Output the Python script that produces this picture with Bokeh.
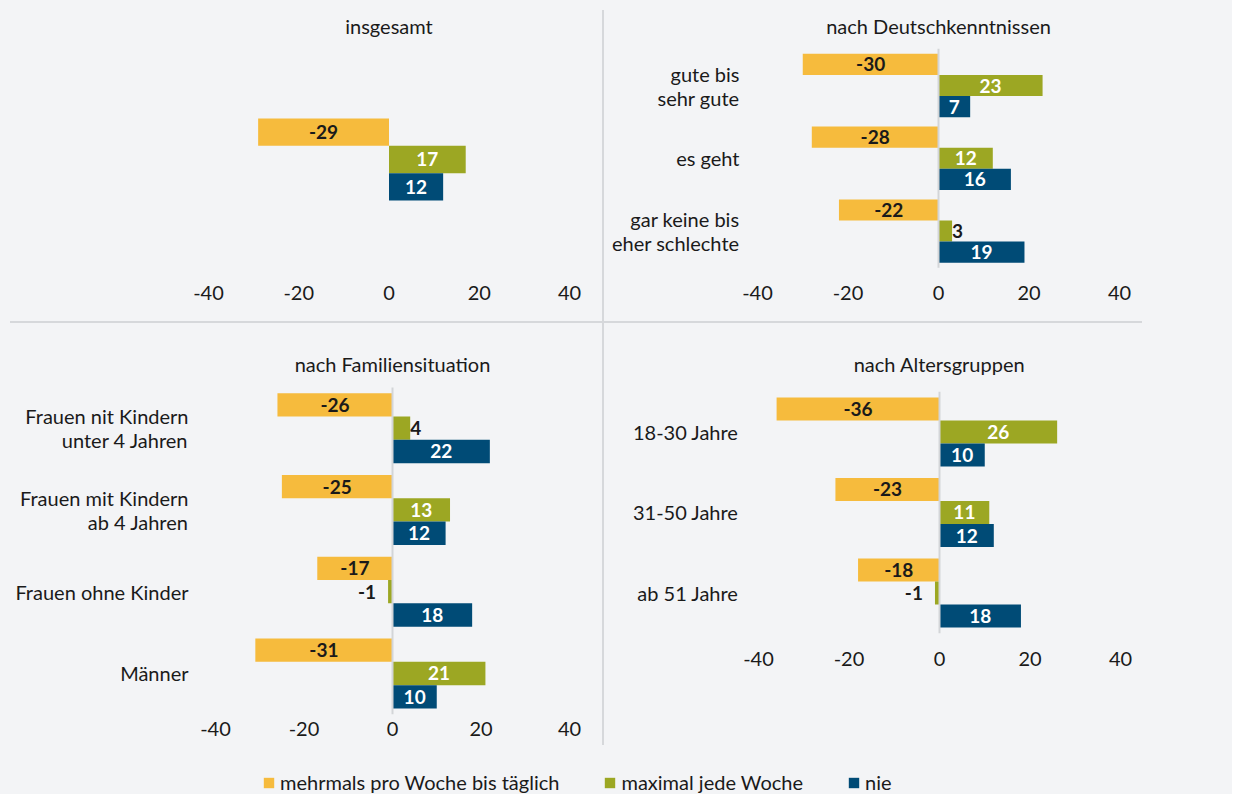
from bokeh.plotting import figure
from bokeh.layouts import column, row
from bokeh.models import Range1d, FixedTicker, Div, Legend, LegendItem, ColumnDataSource
from bokeh.embed import file_html
from bokeh.resources import INLINE
from bokeh.core.properties import value

# ---------------- data ----------------
series_names = ["mehrmals pro Woche bis täglich", "maximal jede Woche", "nie"]
x_ticks = [-40, -20, 0, 20, 40]
x_tick_labels = ["-40", "-20", "0", "20", "40"]

title_total = "insgesamt"
cats_total = ["insgesamt"]
often_total = [-29]
weekly_total = [17]
never_total = [12]

title_deutsch = "nach Deutschkenntnissen"
cats_deutsch = ["gute bis\nsehr gute", "es geht", "gar keine bis\neher schlechte"]
often_deutsch = [-30, -28, -22]
weekly_deutsch = [23, 12, 3]
never_deutsch = [7, 16, 19]

title_family = "nach Familiensituation"
cats_family = ["Frauen nit Kindern\nunter 4 Jahren", "Frauen mit Kindern\nab 4 Jahren",
               "Frauen ohne Kinder", "Männer"]
often_family = [-26, -25, -17, -31]
weekly_family = [4, 13, -1, 21]
never_family = [22, 12, 18, 10]

title_age = "nach Altersgruppen"
cats_age = ["18-30 Jahre", "31-50 Jahre", "ab 51 Jahre"]
often_age = [-36, -23, -18]
weekly_age = [26, 11, -1]
never_age = [10, 12, 18]

# ---------------- style ----------------
BG = "#f3f4f6"
YEL = "#f6bb3d"
GRN = "#9ca723"
BLU = "#004b76"
SEP = "#d6d8db"
ZERO = "#d3d5d8"
TXT = "#1a1a1a"
FONT = "Lato"
FS = "20px"
FS_BAR = "19px"


def panel(title, cats, often, weekly, never, width, height, left, right, top, bottom,
          y0, y1, bh, label_standoff, title_standoff, show_y=True, zero_line=True):
    n = len(cats)
    centers = [float(n - 1 - i) for i in range(n)]
    p = figure(width=width, height=height, x_range=Range1d(-40, 40), y_range=Range1d(y0, y1),
               output_backend="svg", toolbar_location=None,
               min_border_left=left, min_border_right=right,
               min_border_top=top, min_border_bottom=bottom,
               background_fill_color=BG, border_fill_color=BG, outline_line_color=None)
    p.title.text = title
    p.title.align = "center"
    p.title.text_font = FONT
    p.title.text_font_size = FS
    p.title.text_font_style = "normal"
    p.title.text_color = TXT
    p.title.standoff = title_standoff
    p.grid.visible = False

    offsets = [bh, 0.0, -bh]
    colors = [YEL, GRN, BLU]
    inside_colors = [TXT, "white", "white"]
    for vals, off, col, icol in zip([often, weekly, never], offsets, colors, inside_colors):
        ys = [c + off for c in centers]
        lx, al, tc, xo = [], [], [], []
        for v in vals:
            if abs(v) >= 5:
                lx.append(v / 2.0); al.append("center"); tc.append(icol); xo.append(0)
            elif v >= 0:
                lx.append(v); al.append("left"); tc.append(TXT); xo.append(0)
            else:
                lx.append(v); al.append("right"); tc.append(TXT); xo.append(-12)
        src = ColumnDataSource(dict(y=ys, v=vals, lx=lx, al=al, tc=tc, xo=xo,
                                    lbl=[str(v) for v in vals]))
        p.hbar(y="y", left=0, right="v", height=bh, source=src, fill_color=col,
               line_color=None)
        p.text(x="lx", y="y", text="lbl", source=src, text_align="al", text_color="tc",
               x_offset="xo", text_baseline="middle", text_font=value(FONT),
               text_font_style="bold", text_font_size=FS_BAR)

    if zero_line:
        ext = 1.5 * bh + 0.07
        p.segment(x0=[0], y0=[centers[0] + ext], x1=[0], y1=[centers[-1] - ext],
                  line_color=ZERO, line_width=2)

    xa = p.xaxis[0]
    xa.ticker = FixedTicker(ticks=x_ticks)
    xa.major_label_overrides = {float(t): s for t, s in zip(x_ticks, x_tick_labels)}
    xa.axis_line_color = None
    xa.major_tick_line_color = None
    xa.minor_tick_line_color = None
    xa.major_tick_out = 0
    xa.major_tick_in = 0
    xa.major_label_standoff = 5
    xa.major_label_text_font = FONT
    xa.major_label_text_font_size = FS
    xa.major_label_text_color = TXT

    ya = p.yaxis[0]
    if show_y:
        ya.ticker = FixedTicker(ticks=centers)
        ya.major_label_overrides = {c: lab for c, lab in zip(centers, cats)}
        ya.axis_line_color = None
        ya.major_tick_line_color = None
        ya.minor_tick_line_color = None
        ya.major_tick_out = 0
        ya.major_tick_in = 0
        ya.major_label_standoff = label_standoff
        ya.major_label_text_font = FONT
        ya.major_label_text_font_size = FS
        ya.major_label_text_color = TXT
        ya.major_label_text_align = "right"
        ya.major_label_text_line_height = 1.0
    else:
        ya.visible = False
    return p


W = 1232
# top-left: single group
p1 = panel(title_total, cats_total, often_total, weekly_total, never_total,
           602, 321, 208, 33, 45, 41, -1.286, 1.2115, 0.29, 10, 16,
           show_y=False, zero_line=False)
# top-right
p2 = panel(title_deutsch, cats_deutsch, often_deutsch, weekly_deutsch, never_deutsch,
           W - 604, 321, 153, W - 604 - 153 - 362, 45, 41, -0.68, 2.55, 0.29, 18, 15)
# bottom-left
p3 = panel(title_family, cats_family, often_family, weekly_family, never_family,
           602, 430, 215, 33, 62, 37, -0.526, 3.522, 0.285, 27, 20)
# bottom-right (shorter figure, same borders as bottom-left)
p4 = panel(title_age, cats_age, often_age, weekly_age, never_age,
           W - 604, 360, 154, W - 604 - 154 - 362, 62, 37, -0.665, 2.578, 0.286, 20, 20)

# legend strip
pl = figure(width=W, height=41, x_range=Range1d(0, 1), y_range=Range1d(0, 1),
            output_backend="svg", toolbar_location=None, min_border=0,
            background_fill_color=BG, border_fill_color=BG, outline_line_color=None)
pl.xaxis.visible = False
pl.yaxis.visible = False
pl.grid.visible = False
items = []
for name, col in zip(series_names, [YEL, GRN, BLU]):
    # placeholder glyph outside the visible range, only used for the legend swatch
    r = pl.hbar(y=[-5], right=[1], left=0, height=0.5, fill_color=col, line_color=None)
    items.append(LegendItem(label=name, renderers=[r]))
leg = Legend(items=items, orientation="horizontal", location=(262, 0), spacing=44,
             glyph_width=13, glyph_height=13, label_standoff=5, padding=0, margin=0,
             border_line_color=None, background_fill_alpha=0,
             label_text_font=FONT, label_text_font_size=FS, label_text_color=TXT)
pl.add_layout(leg, "center")


def sep(w, h, margin):
    return Div(text="", width=w, height=h, margin=margin,
               styles={"background-color": SEP})


top = row(p1, sep(2, 311, (10, 0, 0, 0)), p2, spacing=0)
hsep = sep(1132, 2, (0, 0, 0, 10))
bottom = row(p3, sep(2, 422, (0, 0, 0, 0)), p4, spacing=0)
layout = column(top, hsep, bottom, pl, spacing=0,
                styles={"background-color": BG})

open("out.html", "w").write(file_html(layout, INLINE))
